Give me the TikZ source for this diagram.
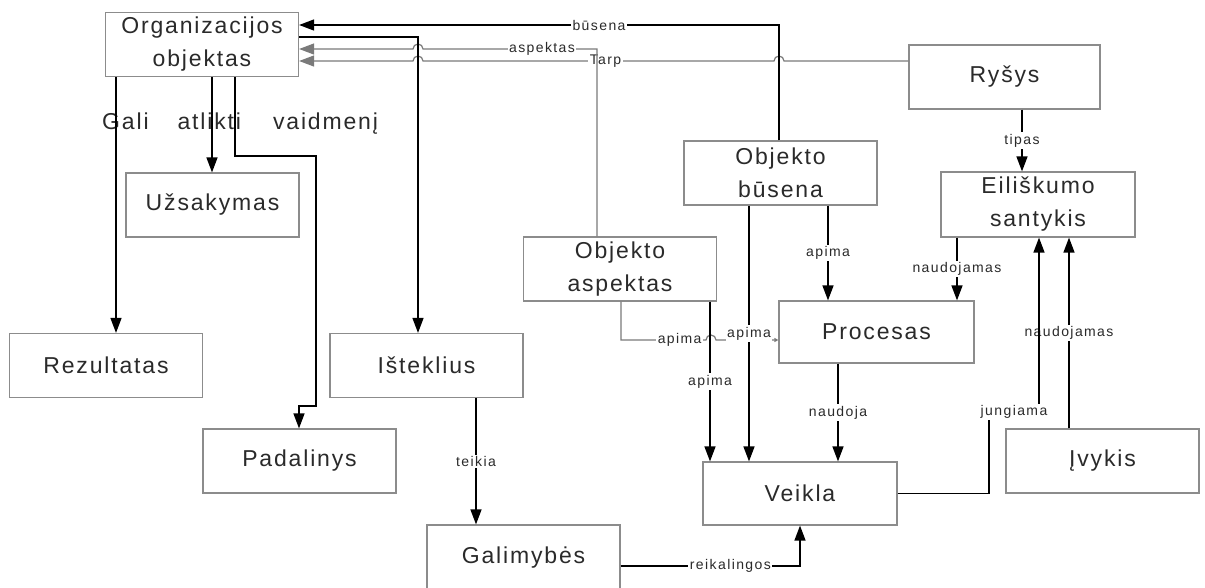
\documentclass[tikz,border=0pt]{standalone}
\usepackage{fontspec}
\setmainfont{Liberation Sans}
\newfontfamily\boxfamily[LetterSpace=8]{Liberation Sans}
\newfontfamily\lblfamily[LetterSpace=10]{Liberation Sans}
\usetikzlibrary{arrows.meta}
\definecolor{txt}{HTML}{2A2A2A}
\definecolor{boxgray}{HTML}{8C8C8C}
\definecolor{linegray}{HTML}{7A7A7A}
\tikzset{
  ent/.style={draw=boxgray, line width=1.2pt, fill=white, minimum width=193pt,
    minimum height=64pt, inner sep=0pt, text=txt, align=center,
    font=\boxfamily\fontsize{23}{33}\selectfont},
  link/.style={line width=1.4pt, draw=black},
  tolink/.style={link, -{Triangle[length=15pt,width=11pt]}},
  softlink/.style={line width=1.2pt, draw=linegray},
  lbl/.style={fill=white, inner sep=1.5pt, text=txt,
    font=\lblfamily\fontsize{14}{16}\selectfont},
}
\begin{document}
\begin{tikzpicture}[x=1pt,y=1pt]
\useasboundingbox (0,0) rectangle (1205,-587);

% entities
\node[ent] (org) at (202,-44.5) {Organizacijos\\objektas};
\node[ent, minimum width=173pt] (usak) at (212.5,-205) {Užsakymas};
\node[ent] (rez) at (106,-365.5) {Rezultatas};
\node[ent] (ist) at (426.5,-365.5) {Išteklius};
\node[ent] (pad) at (299.5,-461) {Padalinys};
\node[ent, minimum height=65pt] (gal) at (523.5,-557.5) {Galimybės};
\node[ent] (asp) at (620,-269) {Objekto\\aspektas};
\node[ent] (bus) at (780.5,-173) {Objekto\\būsena};
\node[ent, minimum width=195pt, minimum height=62pt] (proc) at (876.5,-332) {Procesas};
\node[ent, minimum width=194pt, minimum height=63pt] (vei) at (800,-493.5) {Veikla};
\node[ent, minimum width=191pt] (rys) at (1004.5,-77) {Ryšys};
\node[ent, minimum width=194pt, minimum height=65pt] (eil) at (1038,-204.5) {Eiliškumo\\santykis};
\node[ent] (ivy) at (1102.5,-461) {Įvykis};

% role caption under the organisation object
\node[anchor=base west, inner sep=0pt, text=txt,
  font=\boxfamily\fontsize{23}{25}\selectfont] (role) at (102,-129)
  {Gali\hspace{29pt}atlikti\hspace{32pt}vaidmenį};

% grey links into the organisation object, hopping over crossings
\draw[softlink, -{Triangle[length=15pt,width=11pt]}]
  (rys.west |- 0,-61) -- (784,-61) arc[start angle=0,end angle=180,radius=5pt]
  -- node[lbl,pos=0.48]{Tarp} (423,-61) arc[start angle=0,end angle=180,radius=5pt]
  -- (org.east |- 0,-61);
\draw[softlink, -{Triangle[length=15pt,width=11pt]}]
  (asp.north -| 597,0) -- (597,-49)
  -- node[lbl,pos=0.316]{aspektas} (423,-49) arc[start angle=0,end angle=180,radius=5pt]
  -- (org.east |- 0,-49);

% black links around the organisation object
\draw[tolink] (bus.north -| 779,0) -- (779,-25)
  -- node[lbl,pos=0.375]{būsena} (org.east |- 0,-25);
\draw[tolink] (org.east |- 0,-37) -| (ist.north -| 418,0);
\draw[tolink] (org.south -| 116,0) -- (rez.north -| 116,0);
\draw[tolink] (org.south -| 212,0) -- (usak.north -| 212,0);
\draw[tolink] (org.south -| 235,0) -- (235,-156) -- (316,-156) -- (316,-406)
  -- (299,-406) -- (pad.north -| 299,0);

% resources and capabilities
\draw[tolink] (ist.south -| 476,0) -- node[lbl]{teikia} (gal.north -| 476,0);
\draw[tolink] (gal.east |- 0,-566) -| node[lbl,pos=0.306]{reikalingos} (vei.south -| 800,0);

% aspect and state links
\draw[softlink, -{Triangle[length=4pt,width=4pt]}]
  (asp.south -| 621,0) -- (621,-340) -- node[lbl,pos=0.69]{apima} (706,-340)
  arc[start angle=180,end angle=0,radius=5pt] -- (proc.west |- 0,-340);
\draw[tolink] (asp.south -| 710,0) -- node[lbl]{apima} (vei.north -| 710,0);
\draw[tolink] (bus.south -| 749,0) -- node[lbl]{apima} (vei.north -| 749,0);
\draw[tolink] (bus.south -| 828,0) -- node[lbl]{apima} (proc.north -| 828,0);
\draw[tolink] (proc.south -| 838,0) -- node[lbl]{naudoja} (vei.north -| 838,0);

% relation links
\draw[tolink] (rys.south -| 1022,0) -- node[lbl]{tipas} (eil.north -| 1022,0);
\draw[tolink] (eil.south -| 957,0) -- node[lbl]{naudojamas} (proc.north -| 957,0);
\draw[tolink] (ivy.north -| 1069,0) -- node[lbl]{naudojamas} (eil.south -| 1069,0);
\draw[tolink] (vei.east) -- (989,-493.5) -- (989,-412)
  -- node[lbl]{jungiama} (1039,-412) -- (eil.south -| 1039,0);
\end{tikzpicture}
\end{document}
